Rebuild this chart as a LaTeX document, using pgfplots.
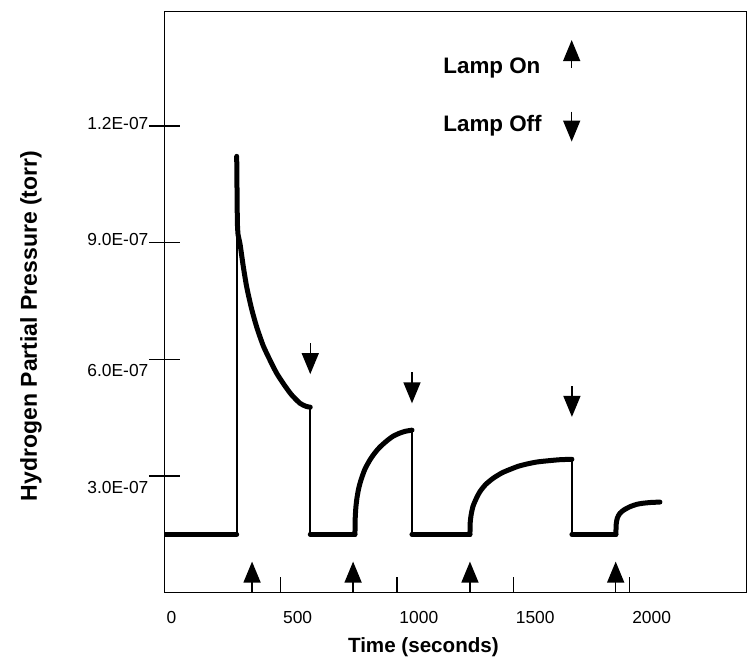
\documentclass[border=0pt]{standalone}
\usepackage{pgfplots}
\pgfplotsset{compat=1.18}
\usepackage{fontspec}
\setmainfont{Liberation Sans}
\usetikzlibrary{arrows.meta}

\begin{document}
\begin{tikzpicture}
\path[use as bounding box] (-82.15pt,-32.65pt) rectangle (292.85pt,296.35pt);
\begin{axis}[
  at={(0,0)}, anchor=south west,
  scale only axis, width=291pt, height=290.7pt,
  xmin=0, xmax=2500, ymin=0, ymax=14.95,
  axis line style={line width=0.75pt},
  xtick={0,500,1000,1500,2000},
  xticklabels={0,500,1000,1500,2000},
  minor xtick={500,1000,1500,2000},
  major x tick style={draw=none},
  minor tick length=8pt,
  xtick align=inside,
  xtick pos=bottom,
  ytick={3,6,9,12},
  yticklabels={{\raisebox{-8.6pt}{3.0E-07}},{\raisebox{-8.6pt}{6.0E-07}},{\raisebox{-1.6pt}{9.0E-07}},{\raisebox{-1.6pt}{1.2E-07}}},
  ytick align=center,
  major tick length=15.5pt,
  ytick pos=left,
  tick style={black, line width=0.6pt},
  every tick label/.append style={font=\fontsize{8.7}{10}\selectfont},
  xticklabel style={anchor=north west, inner sep=0pt, xshift=1pt, yshift=-9pt},
  yticklabel style={anchor=base east, inner sep=0pt},
  xlabel={Time (seconds)},
  xlabel style={at={(axis cs:1113,-1.55)}, anchor=base, inner sep=0pt, font=\bfseries\fontsize{10.3}{12}\selectfont},
  ylabel={Hydrogen Partial Pressure (torr)},
  ylabel style={at={(axis cs:-572.6,6.86)}, anchor=center, font=\bfseries\fontsize{11.5}{13}\selectfont},
]
% baselines (thick)
\addplot[black, line width=2.5pt, line cap=round] coordinates {(0,1.5) (311,1.5)};
\addplot[black, line width=2.5pt, line cap=round] coordinates {(627,1.5) (819,1.5)};
\addplot[black, line width=2.5pt, line cap=round] coordinates {(1064,1.5) (1313,1.5)};
\addplot[black, line width=2.5pt, line cap=round] coordinates {(1751,1.5) (1940,1.5)};
% thin vertical steps
\addplot[black, line width=0.9pt] coordinates {(311,1.5) (311,11.22)};
\addplot[black, line width=0.9pt] coordinates {(627,4.77) (627,1.5)};
\addplot[black, line width=0.9pt] coordinates {(1064,4.18) (1064,1.5)};
\addplot[black, line width=0.9pt] coordinates {(1751,3.43) (1751,1.5)};
% curve 1 (decay)
\addplot[black, line width=2.5pt, line cap=round, line join=round, smooth, tension=0.4] coordinates {
(311,11.22) (312,10.6) (313,10.0) (314,9.5) (317,9.2) (325,8.98) (339,8.40) (354,7.86)
(375,7.30) (397,6.83) (425,6.35) (454,5.98) (482,5.65) (511,5.38) (545,5.10) (583,4.87)
(610,4.79) (627,4.77)};
% curve 2
\addplot[black, line width=2.5pt, line cap=round, line join=round, smooth, tension=0.4] coordinates {
(819,1.50) (820,1.9) (823,2.2) (828,2.45) (835,2.68) (845,2.90) (862,3.18) (884,3.42)
(905,3.60) (927,3.75) (955,3.90) (982,4.02) (1010,4.10) (1035,4.15) (1064,4.18)};
% curve 3
\addplot[black, line width=2.5pt, line cap=round, line join=round, smooth, tension=0.4] coordinates {
(1313,1.50) (1314,1.80) (1318,2.0) (1326,2.22) (1340,2.42) (1356,2.60) (1380,2.78) (1412,2.94)
(1450,3.08) (1485,3.17) (1520,3.25) (1558,3.31) (1600,3.36) (1644,3.39) (1700,3.42) (1751,3.43)};
% curve 4
\addplot[black, line width=2.5pt, line cap=round, line join=round, smooth, tension=0.4] coordinates {
(1940,1.50) (1941,1.75) (1946,1.92) (1957,2.04) (1975,2.13) (2000,2.21) (2028,2.27)
(2056,2.30) (2090,2.32) (2129,2.33)};
% lamp on / off arrows
\addplot[black, line width=0.75pt, quiver={u=0, v=\thisrow{dv}},
  -{Triangle[width=8.5pt,length=10.5pt]}] table[x=x, y=y] {
x y dv
377 0 0.80
811 0 0.80
1313 0 0.80
1939 0 0.80
627 6.42 -0.80
1064 5.67 -0.80
1751 5.31 -0.79
1750 13.49 0.72
1750 12.37 -0.77
};
\node[anchor=base west, inner sep=0pt, font=\bfseries\fontsize{11.2}{13}\selectfont] at (axis cs:1197,13.36) {Lamp On};
\node[anchor=base west, inner sep=0pt, font=\bfseries\fontsize{11.2}{13}\selectfont] at (axis cs:1197,11.85) {Lamp Off};
\end{axis}
\end{tikzpicture}
\end{document}
